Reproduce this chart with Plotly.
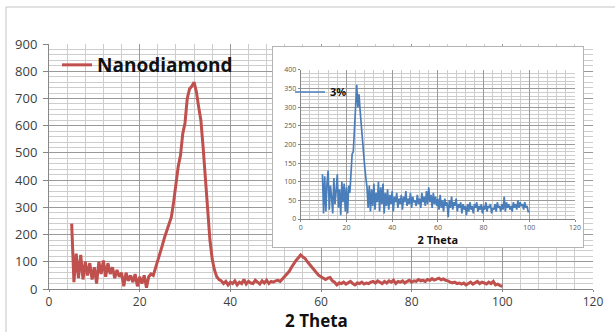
import plotly.graph_objects as go

# ---------------- data ----------------
nd_start, nd_step = 5.0, 0.5
nanodiamond = [
    240, 25, 130, 40, 125, 35, 100, 50, 95, 35,
    80, 20, 100, 55, 105, 45, 95, 55, 80, 40,
    70, 45, 60, 10, 60, 30, 50, 25, 55, 10,
    45, 20, 50, 5, 45, 55, 50, 80, 110, 135,
    160, 190, 215, 240, 265, 320, 390, 450, 490, 570,
    610, 700, 735, 745, 760, 725, 670, 620, 520, 400,
    300, 180, 110, 70, 45, 35, 30, 20, 28, 15,
    25, 20, 30, 15, 25, 20, 35, 18, 28, 22,
    20, 32, 25, 18, 30, 22, 32, 20, 28, 25,
    30, 32, 28, 38, 45, 55, 65, 80, 95, 105,
    115, 125, 118, 112, 100, 90, 80, 70, 60, 50,
    45, 40, 35, 40, 42, 30, 25, 15, 22, 20,
    25, 18, 22, 28, 20, 15, 22, 20, 25, 18,
    22, 20, 25, 28, 22, 30, 25, 20, 28, 22,
    30, 25, 32, 20, 28, 25, 30, 22, 28, 32,
    25, 30, 28, 35, 30, 32, 28, 35, 32, 38,
    33, 36, 40, 34, 37, 32, 30, 25, 22, 25,
    20, 22, 18, 22, 15, 20, 25, 18, 22, 28,
    20, 25, 22, 18, 25, 20, 28, 15, 18, 12,
    10,
]
nd_theta = [nd_start + nd_step * i for i in range(len(nanodiamond))]

p3_start, p3_step = 9.5, 0.5
pct3 = [
    120, 15, 115, 20, 95, 130, 25, 90, 60, 15,
    110, 40, 75, 120, 30, 80, 10, 100, 45, 95,
    20, 85, 15, 90, 70, 125, 175, 180, 240, 290,
    360, 300, 335, 290, 250, 200, 185, 140, 110, 85,
    30, 90, 20, 80, 35, 95, 25, 70, 45, 100,
    20, 85, 40, 95, 15, 70, 35, 80, 25, 65,
    40, 75, 20, 60, 45, 70, 30, 55, 40, 65,
    25, 60, 45, 75, 35, 55, 40, 70, 30, 60,
    45, 50, 35, 65, 40, 55, 30, 70, 45, 60,
    35, 75, 40, 85, 45, 65, 30, 70, 40, 60,
    35, 55, 25, 65, 30, 50, 20, 55, 35, 45,
    5, 50, 30, 60, 25, 45, 35, 55, 20, 40,
    30, 45, 15, 40, 25, 35, 10, 40, 20, 45,
    25, 35, 15, 40, 30, 45, 20, 35, 25, 40,
    15, 35, 25, 45, 20, 35, 30, 40, 15, 30,
    25, 40, 20, 45, 30, 35, 20, 40, 25, 60,
    20, 45, 30, 40, 25, 35, 20, 45, 30, 40,
    25, 50, 30, 45, 35, 40, 25, 45, 30, 35,
    20, 20,
]
p3_theta = [p3_start + p3_step * i for i in range(len(pct3))]

main_xticks = [0, 20, 40, 60, 80, 100, 120]
main_yticks = [0, 100, 200, 300, 400, 500, 600, 700, 800, 900]
inset_xticks = [0, 20, 40, 60, 80, 100, 120]
inset_yticks = [0, 50, 100, 150, 200, 250, 300, 350, 400]
x_title = "2 Theta"

# ---------------- figure ----------------
RED = "#c0504d"
BLUE = "#4a7ebb"
FONT = "Open Sans"

fig = go.Figure()
fig.add_trace(go.Scatter(
    x=nd_theta, y=nanodiamond, mode="lines", name="Nanodiamond",
    line=dict(color=RED, width=3), xaxis="x", yaxis="y", legend="legend",
))
# empty trace that only creates the white inset frame subplot
fig.add_trace(go.Scatter(x=[], y=[], xaxis="x2", yaxis="y2",
                         showlegend=False, hoverinfo="skip"))
fig.add_trace(go.Scatter(
    x=p3_theta, y=pct3, mode="lines", name="3%",
    line=dict(color=BLUE, width=1.7), xaxis="x3", yaxis="y3", legend="legend2",
))

major = "#9a9a9a"
minor = "#cdcdcd"

fig.update_layout(
    width=615, height=332,
    margin=dict(l=49, r=22, t=44, b=43),
    paper_bgcolor="white", plot_bgcolor="white",
    font=dict(family=FONT, color="#404040"),
    xaxis=dict(
        domain=[0, 1], range=[0, 120], tickvals=main_xticks,
        showgrid=True, gridcolor=major, gridwidth=1,
        minor=dict(dtick=4, showgrid=True, gridcolor=minor, gridwidth=1),
        showline=True, linecolor="#868686", linewidth=1,
        ticks="outside", ticklen=2, tickcolor="#868686",
        tickfont=dict(size=12, color="#404040"),
        zeroline=False, automargin=False, anchor="y",
    ),
    yaxis=dict(
        domain=[0, 1], range=[0, 900], tickvals=main_yticks,
        showgrid=True, gridcolor=major, gridwidth=1,
        minor=dict(dtick=20, showgrid=True, gridcolor=minor, gridwidth=1),
        showline=True, linecolor="#868686", linewidth=1,
        ticks="outside", ticklen=5, tickcolor="#868686",
        tickfont=dict(size=13, color="#404040"), ticklabelstandoff=3,
        zeroline=False, automargin=False, anchor="x",
    ),
    # white frame of the inset chart
    xaxis2=dict(
        domain=[0.4118, 0.9816], range=[0, 1], showgrid=False, zeroline=False,
        showticklabels=False, ticks="", showline=True, mirror=True,
        linecolor="#b4b4b4", linewidth=1, anchor="y2", fixedrange=True,
    ),
    yaxis2=dict(
        domain=[0.1714, 0.988], range=[0, 1], showgrid=False, zeroline=False,
        showticklabels=False, ticks="", showline=True, mirror=True,
        linecolor="#b4b4b4", linewidth=1, anchor="x2", fixedrange=True,
    ),
    # inset chart
    xaxis3=dict(
        domain=[0.4627, 0.967], range=[0, 120], tickvals=inset_xticks,
        showgrid=True, gridcolor=major, gridwidth=1,
        minor=dict(dtick=4, showgrid=True, gridcolor=minor, gridwidth=1),
        showline=True, linecolor="#868686", linewidth=1,
        ticks="outside", ticklen=2, tickcolor="#868686",
        tickfont=dict(size=7, color="#595959"),
        title=dict(text=x_title, font=dict(size=11, color="#111111", weight="bold"),
                   standoff=1),
        zeroline=False, anchor="y3",
    ),
    yaxis3=dict(
        domain=[0.2857, 0.894], range=[0, 400], tickvals=inset_yticks,
        showgrid=True, gridcolor=major, gridwidth=1,
        minor=dict(dtick=10, showgrid=True, gridcolor=minor, gridwidth=1),
        showline=True, linecolor="#868686", linewidth=1,
        ticks="outside", ticklen=2, tickcolor="#868686",
        tickfont=dict(size=7, color="#595959"),
        zeroline=False, anchor="x3",
    ),
    legend=dict(
        x=(57 - 49) / 544, y=(289 - 65) / 245, xanchor="left", yanchor="middle",
        bgcolor="rgba(0,0,0,0)", borderwidth=0,
        font=dict(size=19, color="#111111", weight="bold"),
        itemclick=False,
    ),
    legend2=dict(
        x=(290 - 49) / 544, y=(289 - 92) / 245, xanchor="left", yanchor="middle",
        bgcolor="rgba(0,0,0,0)", borderwidth=0,
        font=dict(size=11, color="#111111", weight="bold"),
        itemclick=False,
    ),
    annotations=[
        dict(text=x_title, xref="paper", yref="paper",
             x=(316 - 49) / 544, y=(289 - 332) / 245,
             xanchor="center", yanchor="bottom", yshift=-1, showarrow=False,
             borderpad=0,
             font=dict(family=FONT, size=17, color="#111111", weight="bold")),
    ],
    shapes=[
        dict(type="rect", xref="paper", yref="paper",
             x0=(6 - 49) / 544, x1=1.06, y0=-0.25, y1=(289 - 7) / 245,
             line=dict(color="#c4c4c4", width=1), fillcolor="rgba(0,0,0,0)",
             layer="below"),
    ],
    showlegend=True,
)

fig.write_html("out.html")
